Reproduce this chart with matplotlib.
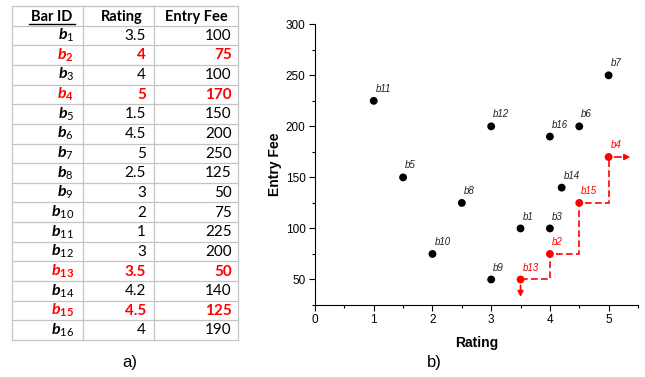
import matplotlib
matplotlib.use("Agg")
import matplotlib.pyplot as plt
from matplotlib.ticker import MultipleLocator

# bars: id, rating, entry fee
bar_ids = list(range(1, 17))
ratings = [3.5, 4, 4, 5, 1.5, 4.5, 5, 2.5, 3, 2, 1, 3, 3.5, 4.2, 4.5, 4]
fees = [100, 75, 100, 170, 150, 200, 250, 125, 50, 75, 225, 200, 50, 140, 125, 190]
skyline = [2, 4, 13, 15]   # highlighted (red) bars
headers = ["Bar ID", "Rating", "Entry Fee"]

plt.rcParams['font.family'] = ['Liberation Sans', 'DejaVu Sans']
plt.rcParams['mathtext.fontset'] = 'custom'
plt.rcParams['mathtext.it'] = 'Lato:italic:bold'
plt.rcParams['mathtext.rm'] = 'Lato'
plt.rcParams['mathtext.bf'] = 'Lato:bold'

W, H = 645, 377
fig = plt.figure(figsize=(W / 100, H / 100), dpi=100)
RED = '#ff0000'

# ---- table a) ----
tab = fig.add_axes([12 / W, 1 - 340 / H, 226 / W, 334 / H])
tab.set_xlim(0, 1)
tab.set_ylim(len(bar_ids) + 1, 0)
tab.axis('off')
grid = '#c4c4c4'
col_edges = [0, 0.314, 0.628, 1]
for r in range(len(bar_ids) + 2):
    tab.plot([0, 1], [r, r], color=grid, lw=0.9, clip_on=False)
for c in col_edges:
    tab.plot([c, c], [0, len(bar_ids) + 1], color=grid, lw=0.9, clip_on=False)

head_x = [0.177, 0.487, 0.814]
for hx, h in zip(head_x, headers):
    tab.text(hx, 0.76, h, ha='center', va='baseline', fontsize=10.5,
             weight='bold', family='Lato')
tab.plot([0.075, 0.279], [0.93, 0.93], color='black', lw=1.0)

for i, (n, r, f) in enumerate(zip(bar_ids, ratings, fees)):
    y = i + 1.72
    hi = n in skyline
    col = RED if hi else 'black'
    w = 'bold' if hi else 'normal'
    lab = r'$b_{\mathbf{%d}}$' % n if hi else r'$b_{%d}$' % n
    tab.text(0.274, y, lab, ha='right', va='baseline', fontsize=11.5, color=col)
    tab.text(0.593, y, f"{r:g}", ha='right', va='baseline', fontsize=11,
             color=col, weight=w, family='Lato')
    tab.text(0.973, y, f"{f}", ha='right', va='baseline', fontsize=11,
             color=col, weight=w, family='Lato')

fig.text(130 / W, 1 - 362 / H, 'a)', ha='center', va='center', fontsize=12)
fig.text(434 / W, 1 - 362 / H, 'b)', ha='center', va='center', fontsize=12)

# ---- scatter b) ----
ax = fig.add_axes([315 / W, 1 - 305 / H, 323 / W, 280.7 / H])
ax.set_xlim(0, 5.5)
ax.set_ylim(25, 300)
ax.spines['top'].set_visible(False)
ax.spines['right'].set_visible(False)
ax.xaxis.set_major_locator(MultipleLocator(1))
ax.xaxis.set_minor_locator(MultipleLocator(0.5))
ax.yaxis.set_major_locator(MultipleLocator(50))
ax.yaxis.set_minor_locator(MultipleLocator(25))
ax.tick_params(which='major', length=4.3, width=0.8, labelsize=8.5, pad=2.5)
ax.tick_params(which='minor', length=2.4, width=0.8)
ax.set_xlabel('Rating', weight='bold', fontsize=10, labelpad=7)
ax.set_ylabel('Entry Fee', weight='bold', fontsize=10, labelpad=3)

# skyline staircase
sky = sorted(skyline, key=lambda n: ratings[n - 1])
sx, sy = [], []
for a, b in zip(sky[:-1], sky[1:]):
    sx += [ratings[a - 1], ratings[b - 1], ratings[b - 1]]
    sy += [fees[a - 1], fees[a - 1], fees[b - 1]]
ax.plot(sx, sy, color=RED, lw=1.2, dashes=(4, 2), zorder=2)

first, last = sky[0], sky[-1]
p0 = (ratings[first - 1], fees[first - 1])
p1 = (ratings[last - 1], fees[last - 1])
head = '<|-,head_length=0.35,head_width=0.18'
ax.annotate('', xy=p0, xytext=(0, -9), textcoords='offset points',
            arrowprops=dict(arrowstyle='-', color=RED, lw=1.2, ls=(0, (4, 2)),
                            shrinkA=0, shrinkB=4))
ax.annotate('', xy=p0, xytext=(0, -12.5), textcoords='offset points',
            arrowprops=dict(arrowstyle=head, color=RED, lw=1.0,
                            shrinkA=0, shrinkB=8))
ax.annotate('', xy=p1, xytext=(9, 0), textcoords='offset points',
            arrowprops=dict(arrowstyle='-', color=RED, lw=1.2, ls=(0, (4, 2)),
                            shrinkA=0, shrinkB=4))
ax.annotate('', xy=p1, xytext=(15.5, 0), textcoords='offset points',
            arrowprops=dict(arrowstyle=head, color=RED, lw=1.0,
                            shrinkA=0, shrinkB=11))

cols = [RED if n in skyline else 'black' for n in bar_ids]
ax.scatter(ratings, fees, s=32, c=cols, zorder=3, linewidths=0)
for n, r, f, c in zip(bar_ids, ratings, fees, cols):
    ax.annotate(f"b{n}", (r, f), xytext=(1.5, 5), textcoords='offset points',
                fontsize=7, style='italic', color='#222222' if c == 'black' else RED,
                ha='left', va='bottom')

fig.savefig('out.png', dpi=100)
